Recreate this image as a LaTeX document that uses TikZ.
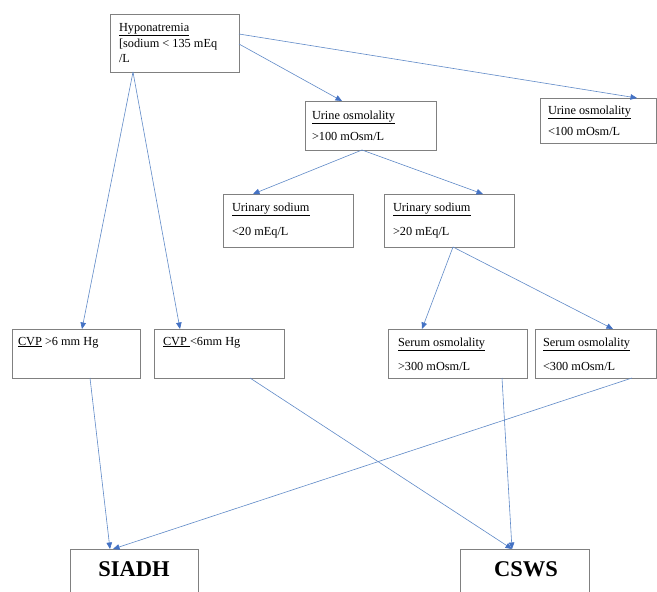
\documentclass[tikz,border=0pt]{standalone}
\usepackage{fontspec}
\setmainfont{Liberation Serif}
\usetikzlibrary{arrows.meta,calc}
\definecolor{lnblue}{RGB}{96,138,200}
\definecolor{tipblue}{RGB}{68,114,196}
\definecolor{boxgray}{RGB}{128,128,128}
\begin{document}
\begin{tikzpicture}[x=1pt,y=-1pt,
  box/.style={draw=boxgray,line width=0.7pt,anchor=north west,inner sep=0pt,outer sep=0pt},
  txt/.style={anchor=base west,inner sep=0pt,outer sep=0pt,font=\fontsize{12.3}{14}\selectfont},
  big/.style={anchor=base,inner sep=0pt,outer sep=0pt,font=\fontsize{22.5}{26}\selectfont\bfseries},
  conn/.style={draw=lnblue,line width=0.6pt,-{Triangle[length=6.5pt,width=5.5pt,color=tipblue]}}]
\useasboundingbox (0,0) rectangle (657,592);
\fill[white] (0,0) rectangle (657,592);
% boxes
\node[box,minimum width=129pt,minimum height=58pt] (hypo) at (110,14) {};
\node[box,minimum width=131pt,minimum height=49pt] (uoA) at (305,101) {};
\node[box,minimum width=116pt,minimum height=45pt] (uoB) at (540,98) {};
\node[box,minimum width=130pt,minimum height=53pt] (usA) at (223,194) {};
\node[box,minimum width=130pt,minimum height=53pt] (usB) at (384,194) {};
\node[box,minimum width=128pt,minimum height=49pt] (cvpA) at (12,329) {};
\node[box,minimum width=130pt,minimum height=49pt] (cvpB) at (154,329) {};
\node[box,minimum width=139pt,minimum height=49pt] (soA) at (388,329) {};
\node[box,minimum width=121pt,minimum height=49pt] (soB) at (535,329) {};
\node[box,minimum width=128pt,minimum height=60pt] (siadh) at (70,549) {};
\node[box,minimum width=129pt,minimum height=60pt] (csws) at (460,549) {};
% texts
\node[txt] (hypoA) at (119,31) {\underline{Hyponatremia}};
\node[txt] (hypoB) at (119,47) {[sodium < 135 mEq};
\node[txt] (hypoC) at (119,62) {/L};
\node[txt] (uoAa) at (312,119) {\underline{Urine osmolality}};
\node[txt] (uoAb) at (312,140) {>100 mOsm/L};
\node[txt] (uoBa) at (548,114) {\underline{Urine osmolality}};
\node[txt] (uoBb) at (548,135) {<100 mOsm/L};
\node[txt] (usAa) at (232,211) {\underline{Urinary sodium}};
\node[txt] (usAb) at (232,235) {<20 mEq/L};
\node[txt] (usBa) at (393,211) {\underline{Urinary sodium}};
\node[txt] (usBb) at (393,235) {>20 mEq/L};
\node[txt] (cvpAt) at (18,345) {\underline{CVP} >6 mm Hg};
\node[txt] (cvpBt) at (163,345) {\underline{CVP }<6mm Hg};
\node[txt] (soAa) at (398,346) {\underline{Serum osmolality}};
\node[txt] (soAb) at (398,370) {>300 mOsm/L};
\node[txt] (soBa) at (543,346) {\underline{Serum osmolality}};
\node[txt] (soBb) at (543,370) {<300 mOsm/L};
\node[big] (siadhT) at (134,576) {SIADH};
\node[big] (cswsT) at (526,576) {CSWS};
% connectors
\draw[conn] ($(hypo.south west)+(23,0)$) -- ($(cvpA.north west)+(70,0)$);
\draw[conn] ($(hypo.south west)+(23,0)$) -- ($(cvpB.north west)+(26,0)$);
\draw[conn] ($(hypo.north east)+(0,30)$) -- ($(uoA.north west)+(37,0)$);
\draw[conn] ($(hypo.north east)+(0,20)$) -- ($(uoB.north west)+(97,0)$);
\draw[conn] ($(uoA.south west)+(57,0)$) -- ($(usA.north west)+(30,0)$);
\draw[conn] ($(uoA.south west)+(57,0)$) -- ($(usB.north west)+(99,0)$);
\draw[conn] ($(usB.south west)+(69,0)$) -- ($(soA.north west)+(34,0)$);
\draw[conn] ($(usB.south west)+(69,0)$) -- ($(soB.north west)+(78,0)$);
\draw[conn] ($(cvpA.south west)+(78,0)$) -- ($(siadh.north west)+(40,0)$);
\draw[conn] ($(cvpB.south west)+(96,0)$) -- ($(csws.north west)+(52,0)$);
\draw[conn] ($(soA.south west)+(114,0)$) -- ($(csws.north west)+(52,0)$);
\draw[conn] ($(soB.south west)+(97,0)$) -- ($(siadh.north west)+(43,0)$);
\end{tikzpicture}
\end{document}
